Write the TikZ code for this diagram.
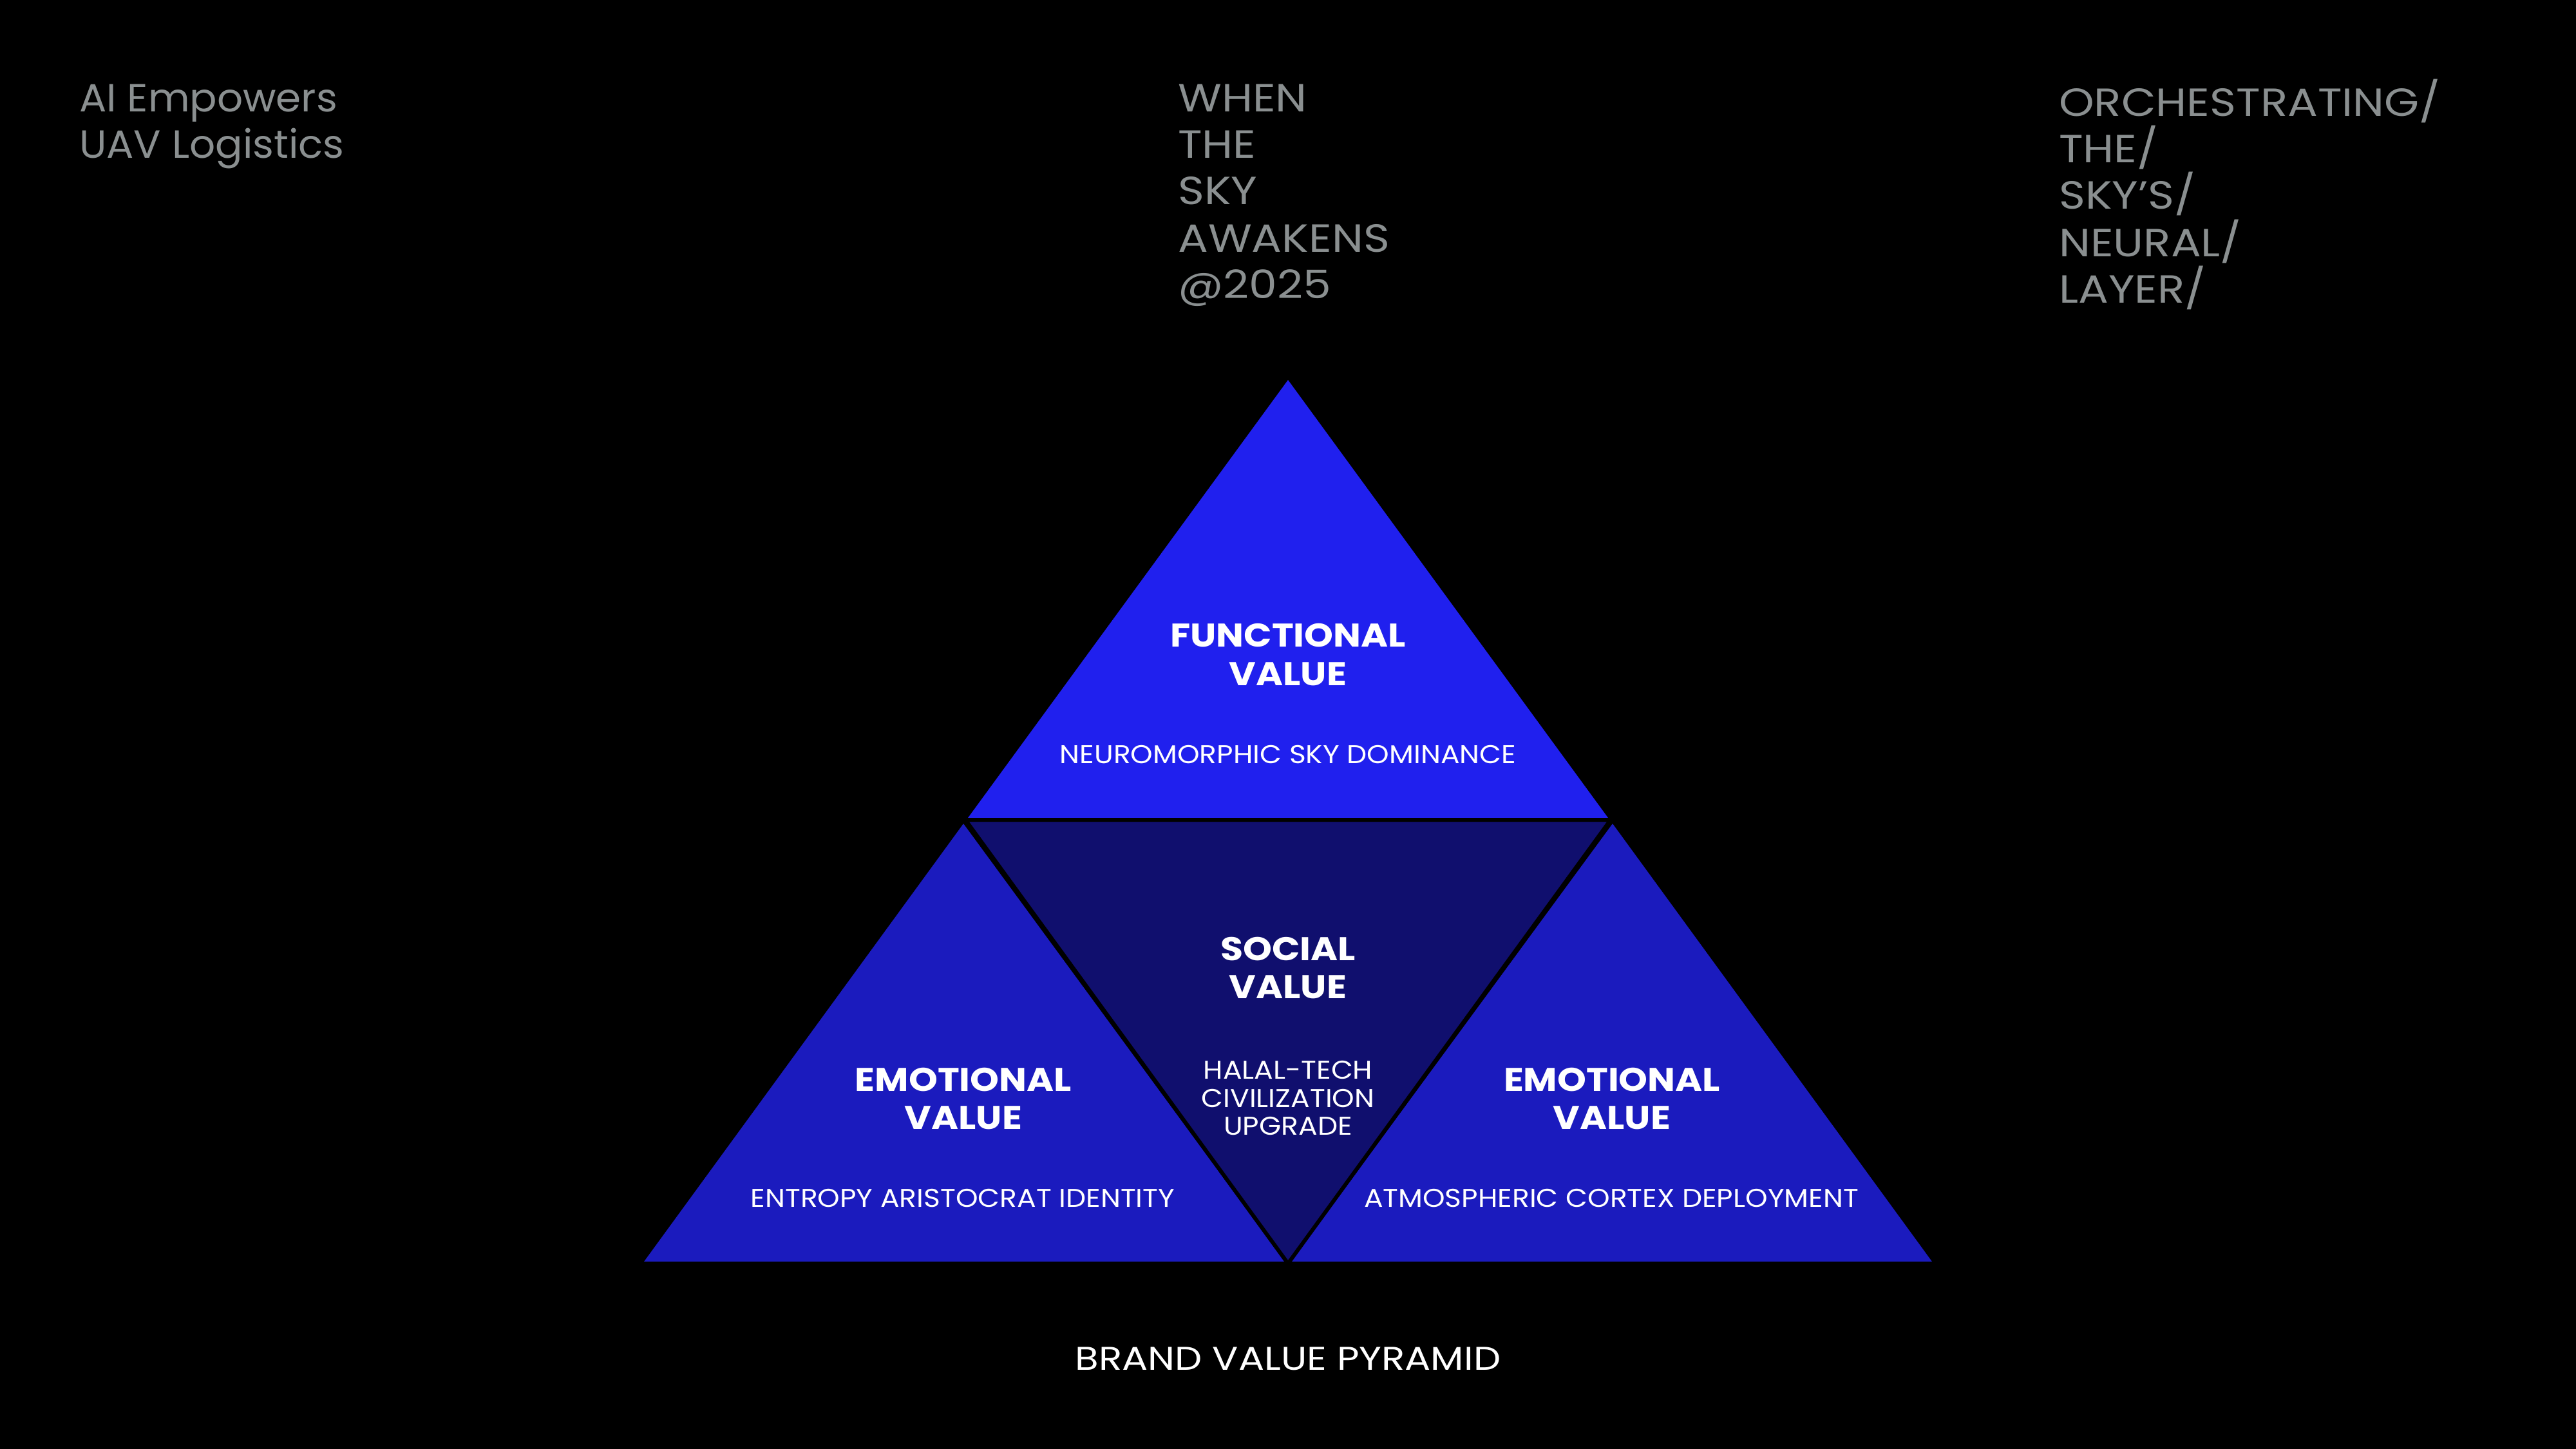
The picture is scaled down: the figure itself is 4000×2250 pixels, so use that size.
\documentclass[tikz,border=0pt]{standalone}
\usepackage{fontspec}
\newfontfamily\popA[FakeStretch=1.03]{Poppins}
\newfontfamily\popC[FakeStretch=1.14]{Poppins}
\newfontfamily\popT[FakeStretch=1.12]{Poppins}
\newfontfamily\popS[FakeStretch=1.10]{Poppins}
\newfontfamily\popB[FakeStretch=1.17]{Poppins}
\definecolor{greytxt}{HTML}{8A8F90}
\definecolor{topblue}{HTML}{2020EE}
\definecolor{sideblue}{HTML}{1B1BBE}
\definecolor{midblue}{HTML}{100F6E}
\tikzset{
  greytext/.style={anchor=base west, inner sep=0pt, text=greytxt, font=\popA\fontsize{61}{72}\selectfont},
  greycaps/.style={anchor=base west, inner sep=0pt, text=greytxt, font=\popC\fontsize{61}{72}\selectfont},
  titletext/.style={anchor=base, inner sep=0pt, text=white, font=\popT\bfseries\fontsize{51}{60}\selectfont},
  subtext/.style={anchor=base, inner sep=0pt, text=white, font=\popS\fontsize{40}{44}\selectfont},
  captiontext/.style={anchor=base, inner sep=0pt, text=white, font=\popB\fontsize{51}{60}\selectfont},
}
\begin{document}
\begin{tikzpicture}[x=1pt,y=-1pt]
\fill[black] (0,0) rectangle (4000,2250);
\useasboundingbox (0,0) rectangle (4000,2250);
% triangles
\fill[topblue] (1503,1270) -- (2497,1270) -- (2000,590) -- cycle;
\fill[sideblue] (1000,1959) -- (1995,1959) -- (1496,1279) -- cycle;
\fill[sideblue] (2005,1959) -- (3000,1959) -- (2504,1279) -- cycle;
\filldraw[fill=midblue, draw=black, line width=6pt, line join=round] (1499,1273) -- (2501,1273) -- (2000,1962) -- cycle;
\fill[black] (900,1959) rectangle (3100,2000);
% top texts
\node[greytext] (l1) at (123,174) {AI Empowers};
\node[greytext] (l2) at (123,246) {UAV Logistics};
\node[greycaps] (m1) at (1829,174) {WHEN};
\node[greycaps] (m2) at (1829,246) {THE};
\node[greycaps] (m3) at (1829,318) {SKY};
\node[greycaps] (m4) at (1829,391) {AWAKENS};
\node[greycaps] (m5) at (1829,463) {@2025};
\node[greycaps] (r1) at (3197,181) {ORCHESTRATING/};
\node[greycaps] (r2) at (3197,253) {THE/};
\node[greycaps] (r3) at (3197,325) {SKY’S/};
\node[greycaps] (r4) at (3197,398) {NEURAL/};
\node[greycaps] (r5) at (3197,470) {LAYER/};
% pyramid texts
\node[titletext] (f1) at (2000,1004) {FUNCTIONAL};
\node[titletext] (f2) at (2000,1064) {VALUE};
\node[subtext] (f3) at (2000,1185) {NEUROMORPHIC SKY DOMINANCE};
\node[titletext] (s1) at (2000,1491) {SOCIAL};
\node[titletext] (s2) at (2000,1550) {VALUE};
\node[subtext] (s3) at (2000,1675) {HALAL-TECH};
\node[subtext] (s4) at (2000,1719) {CIVILIZATION};
\node[subtext] (s5) at (2000,1762) {UPGRADE};
\node[titletext] (e1) at (1496,1694) {EMOTIONAL};
\node[titletext] (e2) at (1496,1753) {VALUE};
\node[subtext] (e3) at (1495,1874) {ENTROPY ARISTOCRAT IDENTITY};
\node[titletext] (g1) at (2503,1694) {EMOTIONAL};
\node[titletext] (g2) at (2503,1753) {VALUE};
\node[subtext] (g3) at (2502,1874) {ATMOSPHERIC CORTEX DEPLOYMENT};
\node[captiontext] (cap) at (2000,2127) {BRAND VALUE PYRAMID};
\end{tikzpicture}
\end{document}
